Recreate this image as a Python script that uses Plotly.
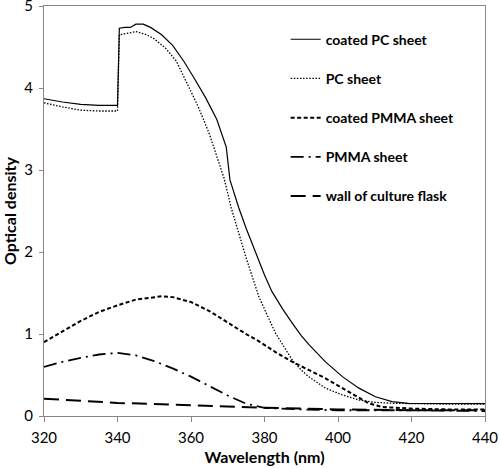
import plotly.graph_objects as go

# Wavelength (nm) / optical density for each series
coated_pc_x = [320, 325, 330, 335, 340, 340.5, 342, 343.5, 345, 347, 349, 352, 355, 358, 361, 364, 367,
               369.6, 370.6, 373, 375, 377.6, 380, 382, 385, 387.6, 390, 392.1, 396.6, 401.2, 405.7, 410.2,
               414.7, 419, 430, 440]
coated_pc_y = [3.87, 3.83, 3.80, 3.79, 3.79, 4.73, 4.74, 4.74, 4.78, 4.78, 4.74, 4.65, 4.52, 4.33, 4.11, 3.88,
               3.62, 3.28, 2.88, 2.54, 2.29, 1.98, 1.72, 1.52, 1.30, 1.13, 0.98, 0.87, 0.66, 0.48, 0.34, 0.235,
               0.175, 0.155, 0.15, 0.15]

pc_x = [320, 325, 330, 335, 340, 340.5, 343, 345, 348, 350, 353, 356, 359, 362, 365, 367, 369, 371, 373, 375,
        378.5, 381, 383, 385.5, 387.6, 390, 392, 396.6, 401, 405.7, 410, 415, 420, 430, 440]
pc_y = [3.82, 3.77, 3.73, 3.72, 3.72, 4.65, 4.67, 4.69, 4.65, 4.60, 4.49, 4.33, 4.05, 3.77, 3.44, 3.18, 2.90,
        2.53, 2.23, 1.93, 1.45, 1.20, 1.01, 0.83, 0.68, 0.56, 0.48, 0.34, 0.26, 0.195, 0.167, 0.155, 0.15,
        0.145, 0.145]

coated_pmma_x = [320, 325, 330, 335, 340, 345, 350, 352, 355, 360, 365, 371, 375, 378.5, 383, 387.6, 392.1,
                 396.6, 401.2, 405.7, 408.4, 412, 420, 430, 440]
coated_pmma_y = [0.90, 1.03, 1.16, 1.27, 1.35, 1.42, 1.455, 1.46, 1.45, 1.39, 1.28, 1.11, 1.00, 0.91, 0.78,
                 0.66, 0.56, 0.46, 0.34, 0.22, 0.155, 0.11, 0.09, 0.08, 0.08]

pmma_x = [320, 325, 330, 335, 340, 345, 350, 355, 360, 365, 370, 375, 380, 390, 400, 420, 440]
pmma_y = [0.60, 0.66, 0.71, 0.75, 0.77, 0.74, 0.67, 0.58, 0.48, 0.36, 0.25, 0.15, 0.10, 0.08, 0.07, 0.07, 0.06]

flask_x = [320, 340, 360, 380, 400, 420, 440]
flask_y = [0.21, 0.16, 0.13, 0.10, 0.08, 0.07, 0.07]

x_ticks = [320, 340, 360, 380, 400, 420, 440]
y_ticks = [0, 1, 2, 3, 4, 5]

FONT = "Lato"

series = [
    ("coated PC sheet", coated_pc_x, coated_pc_y, "solid", 1.2),
    ("PC sheet", pc_x, pc_y, "1.5px,1.6px", 1.3),
    ("coated PMMA sheet", coated_pmma_x, coated_pmma_y, "4px,2.5px", 2.0),
    ("PMMA sheet", pmma_x, pmma_y, "13px,5px,2px,5px", 1.8),
    ("wall of culture flask", flask_x, flask_y, "15px,7px", 2.0),
]

fig = go.Figure()
for i, (name, xs, ys, dash, w) in enumerate(series):
    fig.add_trace(go.Scatter(x=xs, y=ys, mode="lines", name=name, legendgroup=str(i),
                             line=dict(color="black", width=w, dash=dash)))

fig.update_layout(
    width=500, height=468,
    margin=dict(l=44, r=15, t=6, b=52),
    paper_bgcolor="white", plot_bgcolor="white",
    font=dict(family=FONT, color="black", size=14),
    legend=dict(x=0.548, y=0.957, xanchor="left", yanchor="top",
                bgcolor="rgba(0,0,0,0)", tracegroupgap=18, itemwidth=30,
                font=dict(family=FONT, size=14, color="black", weight="bold")),
    xaxis=dict(range=[320, 440.001], tickvals=x_ticks, ticks="outside", ticklen=5,
               tickcolor="#888", linecolor="#888", linewidth=1, mirror=True, automargin=False,
               showgrid=False, zeroline=False, tickfont=dict(size=15), ticklabelstandoff=3,
               ticklabeloverflow="allow",
               title=dict(text="Wavelength (nm)", font=dict(size=16, weight="bold"), standoff=6)),
    yaxis=dict(range=[0, 5.001], tickvals=y_ticks, ticks="outside", ticklen=4,
               tickcolor="#888", linecolor="#888", linewidth=1, mirror=True, automargin=False,
               showgrid=False, zeroline=False, tickfont=dict(size=15), ticklabelstandoff=3,
               ticklabeloverflow="allow",
               title=dict(text="Optical density", font=dict(size=16, weight="bold"), standoff=4)),
)

fig.write_html("out.html", config={"displayModeBar": False},
               post_script="document.body.style.margin='0';document.body.style.padding='0';"
                           "document.documentElement.style.overflow='hidden';")
